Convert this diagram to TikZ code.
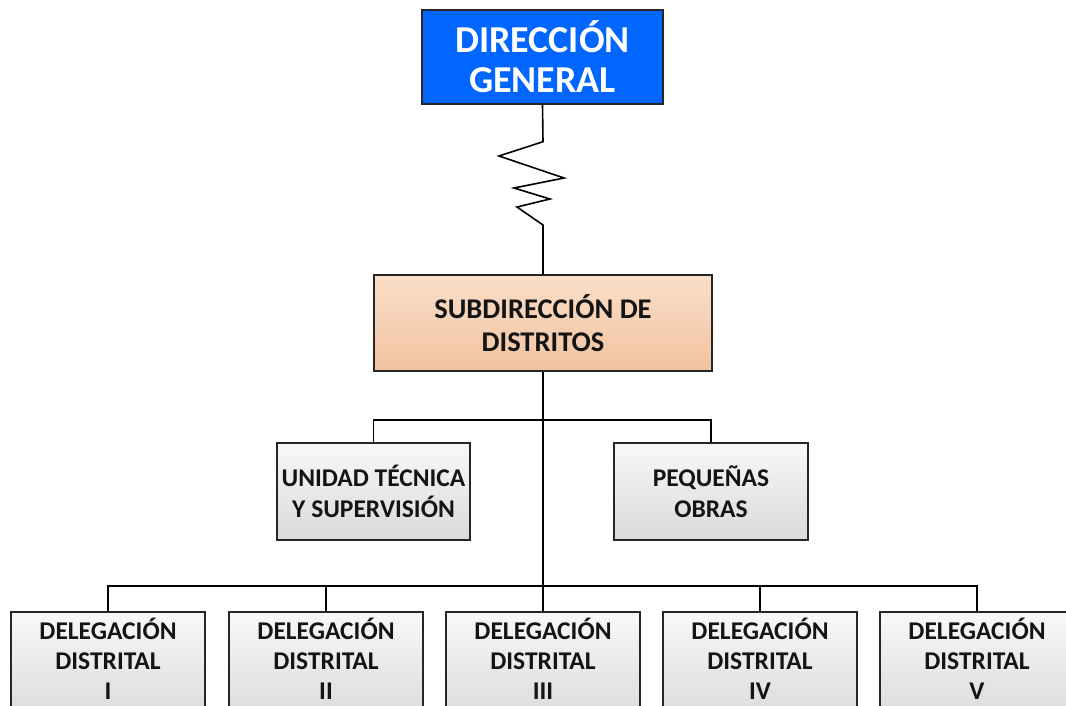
\documentclass[tikz,border=0pt]{standalone}
\usepackage{fontspec}
\setmainfont{Carlito}
\definecolor{dirblue}{RGB}{0,102,255}
\definecolor{peachtop}{RGB}{250,222,200}
\definecolor{peachbot}{RGB}{241,195,160}
\definecolor{graytop}{RGB}{248,248,248}
\definecolor{graybot}{RGB}{218,218,218}
\definecolor{txt}{RGB}{20,20,20}
\begin{document}
\begin{tikzpicture}[x=1pt,y=-1pt,
  box/.style={draw=black!85,line width=1.6pt,align=center,inner sep=0pt,font=\bfseries,text=txt},
  graybox/.style={box,top color=graytop,bottom color=graybot,minimum width=193pt,font=\bfseries\fontsize{25.5}{31}\selectfont},
  deltext/.style={align=center,inner sep=0pt,text=txt,font=\bfseries\fontsize{25.5}{30}\selectfont},
  conn/.style={line width=1.6pt,black}]
\useasboundingbox (0,0) rectangle (1066,705);
\clip (0,0) rectangle (1066,705);
\node[box,fill=dirblue,text=white,minimum width=241pt,minimum height=94pt,font=\bfseries\fontsize{38}{40}\selectfont] (dg) at (542.5,57) {DIRECCIÓN\\GENERAL};
\node[box,top color=peachtop,bottom color=peachbot,minimum width=338pt,minimum height=96pt,font=\bfseries\fontsize{28.5}{33}\selectfont] (sd) at (543,323) {SUBDIRECCIÓN DE\\DISTRITOS};
\node[graybox,minimum height=97pt] (ut) at (373.5,491.5) {UNIDAD TÉCNICA\\Y SUPERVISIÓN};
\node[graybox,minimum height=97pt,minimum width=194pt] (po) at (711,491.5) {PEQUEÑAS\\OBRAS};
\foreach \i/\x/\r in {1/108/I,2/326/II,3/543/III,4/760/IV,5/977/V}{
  \node[graybox,minimum height=104pt,minimum width=194pt,top color=graytop,bottom color=graybot!95] (d\i) at (\x,664) {};
  \node[deltext] (t\i) at (\x,659) {DELEGACIÓN\\DISTRITAL\\\r};
}
% zigzag connector
\draw[conn,line join=miter] (dg.south) -- (543,141.7) -- (499,156) -- (564,178) -- (514,188) -- (550,199) -- (517,207) -- (543,225) -- (sd.north);
% staff connector
\coordinate (hb) at (543,420);
\draw[conn] (ut.north) |- (hb) -| (po.north);
% main trunk
\coordinate (bb) at (543,586);
\draw[conn] (sd.south) -- (d3.north);
\draw[conn] (d1.north) |- (bb) -| (d5.north);
\draw[conn] (d2.north) -- (d2.north |- bb);
\draw[conn] (d4.north) -- (d4.north |- bb);
\end{tikzpicture}
\end{document}
